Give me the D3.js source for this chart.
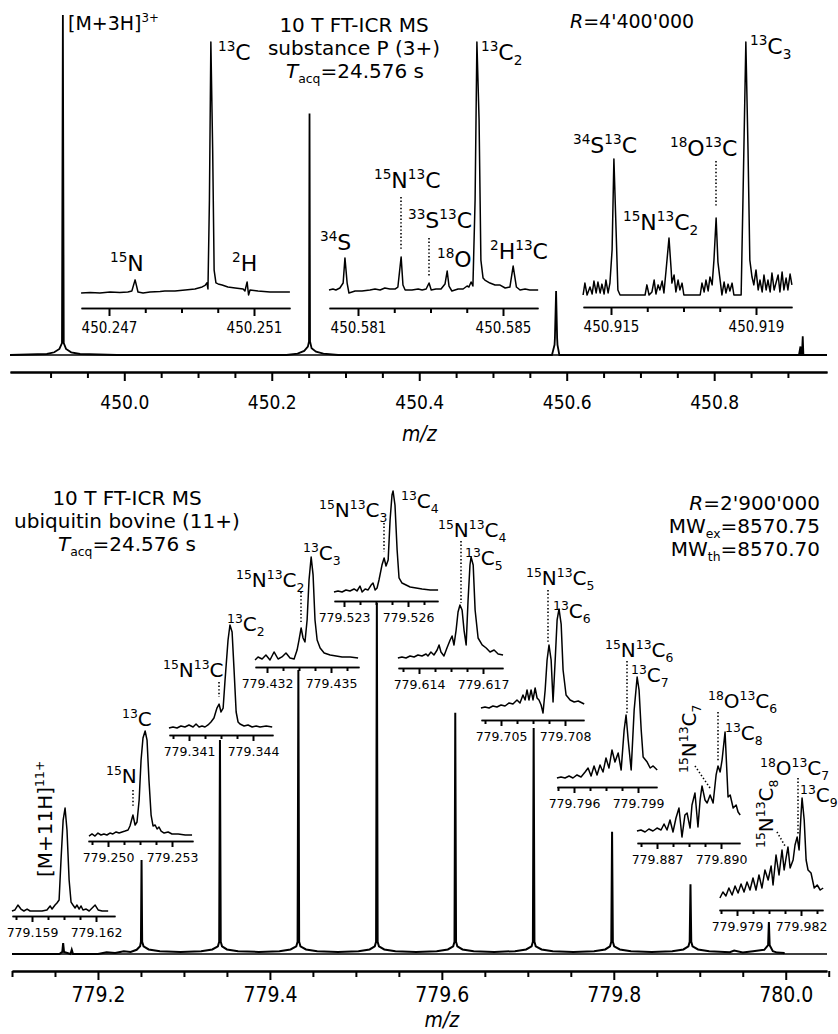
<!DOCTYPE html>
<html><head><meta charset="utf-8">
<script src="https://cdn.jsdelivr.net/npm/d3@7"></script>
<style>
body{margin:0;background:#fff}
svg text{font-family:"DejaVu Sans",sans-serif;fill:#000}
</style></head><body>
<svg id="c" width="838" height="1034"></svg>
<script>
// ================= DATA =================
// ---- Top panel: substance P (3+) ----
const spProfile = [ // [m/z, relative intensity %]
 [449.845,0],[449.895,0.3],[449.905,0.8],[449.912,1.8],[449.9155,3.5],[449.9167,100],[449.9179,3.5],[449.921,1.8],[449.928,0.8],[449.94,0.3],[449.99,0],
 [450.22,0],[450.235,0.4],[450.244,1.2],[450.249,2.5],[450.2505,4],[450.2512,71],[450.2519,4],[450.254,2],[450.26,1],[450.27,0.4],[450.29,0],
 [450.58,0],[450.5835,3],[450.584,5],[450.5856,18.8],[450.587,5],[450.5875,3],[450.59,0],
 [450.915,0],[450.917,2.5],[450.9175,0],[450.919,0],[450.9201,5.5],[450.921,0],[450.953,0]
];
const topMajorTicks = [450.0, 450.2, 450.4, 450.6, 450.8];
const topMinorTicks = [449.9,449.95,450.05,450.1,450.15,450.25,450.3,450.35,450.45,450.5,450.55,450.65,450.7,450.75,450.85,450.9];
// inset traces: [offset from first labelled tick in mDa, relative intensity %]
const spInset1 = [[-0.77,0.4],[-0.52,0.6],[-0.25,0.4],[0.03,0.8],[0.30,0.6],[0.52,0.8],[0.63,1.2],[0.72,5.6],[0.80,0.8],[0.94,0.4],[1.13,0.8],[1.41,1.0],[1.54,1.2],[1.82,1.2],[2.10,1.6],[2.37,2.0],[2.57,2.8],[2.65,3.4],[2.70,4.4],[2.73,2.0],[2.77,37],[2.81,100],[2.86,57],[2.90,9.5],[2.95,4.4],[3.01,4.0],[3.12,3.6],[3.28,2.8],[3.48,2.4],[3.70,2.0],[3.75,1.2],[3.81,4.8],[3.85,-0.4],[3.89,1.6],[4.11,1.2],[4.44,0.8],[4.72,0.8],[4.99,0.8]];
const spInset2 = [[-0.80,0.4],[-0.69,0.8],[-0.61,0.4],[-0.50,1.2],[-0.41,3.2],[-0.36,13.3],[-0.30,3.2],[-0.25,-0.8],[-0.08,0],[0.11,0],[0.33,0.4],[0.47,0.8],[0.61,0.4],[0.74,1.2],[0.88,0.8],[1.02,0.8],[1.10,1.6],[1.19,13.7],[1.24,2.4],[1.30,0.4],[1.49,0.4],[1.66,0.8],[1.77,0.4],[1.88,0.8],[1.96,3.2],[2.02,0.4],[2.15,0.8],[2.29,0.8],[2.40,2.8],[2.46,8.0],[2.51,2.0],[2.59,0],[2.76,0.8],[2.90,0.8],[3.01,2.0],[3.06,1.6],[3.12,3.6],[3.17,2.0],[3.23,36.5],[3.28,100],[3.34,68.7],[3.39,12.4],[3.45,5.2],[3.50,4.4],[3.64,3.2],[3.78,2.4],[3.92,2.4],[4.06,1.2],[4.19,1.6],[4.28,10.0],[4.37,1.6],[4.47,0.4],[4.61,0.8],[4.74,0.4],[4.97,0.4]];
const spInset3 = [[-0.77,0],[-0.72,4.7],[-0.66,0],[-0.58,3.2],[-0.52,0.4],[-0.47,5.5],[-0.41,0.8],[-0.36,5.1],[-0.30,0.8],[-0.25,4.3],[-0.19,0.4],[-0.14,5.9],[-0.08,0.8],[-0.03,4.7],[0.03,17.8],[0.08,53.8],[0.14,25.7],[0.19,2.0],[0.25,0],[0.94,0],[0.99,4.0],[1.05,0],[1.13,1.2],[1.19,5.9],[1.24,0.4],[1.30,4.0],[1.35,2.0],[1.41,5.5],[1.46,0.8],[1.52,9.9],[1.60,22.5],[1.66,9.9],[1.68,4.7],[1.74,7.9],[1.79,1.2],[1.85,5.9],[1.90,2.0],[1.96,4.7],[2.01,0],[2.46,0],[2.51,4.7],[2.57,1.2],[2.62,5.9],[2.68,1.6],[2.73,7.1],[2.79,4.0],[2.84,13.8],[2.90,30.4],[2.95,13.0],[3.01,5.9],[3.06,0],[3.12,5.1],[3.17,0.8],[3.23,4.3],[3.28,1.6],[3.34,4.7],[3.39,0],[3.59,0],[3.64,37.5],[3.72,100],[3.78,57.3],[3.83,13.8],[3.89,7.1],[3.94,4.0],[4.00,9.9],[4.06,2.0],[4.11,5.9],[4.17,1.2],[4.22,7.9],[4.28,2.0],[4.33,5.9],[4.39,1.2],[4.44,8.7],[4.50,2.0],[4.55,4.7],[4.61,7.9],[4.66,1.2],[4.72,9.1],[4.77,2.0],[4.83,6.7],[4.88,2.0],[4.94,8.3],[4.99,4.0]];
const topInsetTicks = [[450.247,450.251],[450.581,450.585],[450.915,450.919]];

// ---- Bottom panel: ubiquitin (11+) ----
const ubqProfile = [
 [779.100,0],[779.155,0],[779.1585,0.6],[779.1595,3.1],[779.1605,0.6],[779.168,0],[779.1695,1.2],[779.171,0],
 [779.200,0],[779.210,0.5],[779.220,0.3],[779.230,0.8],[779.238,0.6],[779.245,1.2],[779.2490,2.2],[779.2500,3.5],[779.2507,26.8],[779.2514,3.5],[779.2530,2.2],[779.259,1.3],[779.272,0.8],[779.296,0.6],[779.320,0.8],[779.333,1.3],
 [779.3395,2.2],[779.3410,3.5],[779.3419,61.0],[779.3428,3.5],[779.3443,2.2],[779.350,1.3],[779.363,0.8],[779.387,0.6],[779.411,0.8],[779.424,1.3],
 [779.4307,2.2],[779.4322,3.5],[779.4331,80.9],[779.4340,3.5],[779.4355,2.2],[779.442,1.3],[779.455,0.8],[779.479,0.6],[779.503,0.8],[779.516,1.3],
 [779.5220,2.2],[779.5235,3.5],[779.5244,100],[779.5253,3.5],[779.5268,2.2],[779.533,1.3],[779.546,0.8],[779.570,0.6],[779.594,0.8],[779.607,1.3],
 [779.6132,2.2],[779.6147,3.5],[779.6156,68.7],[779.6165,3.5],[779.6180,2.2],[779.624,1.3],[779.637,0.8],[779.661,0.6],[779.685,0.8],[779.698,1.3],
 [779.7044,2.2],[779.7059,3.5],[779.7068,64.4],[779.7077,3.5],[779.7092,2.2],[779.716,1.3],[779.729,0.8],[779.753,0.6],[779.777,0.8],[779.790,1.3],
 [779.7956,2.2],[779.7971,3.5],[779.7980,34.8],[779.7989,3.5],[779.8004,2.2],[779.807,1.3],[779.820,0.8],[779.844,0.6],[779.868,0.8],[779.881,1.3],
 [779.8868,2.2],[779.8883,3.5],[779.8892,19.9],[779.8901,3.5],[779.8916,2.2],[779.898,1.3],[779.911,0.8],[779.935,0.5],[779.940,1.0],[779.950,0.4],[779.962,0.8],[779.975,1.2],
 [779.9795,2.5],[779.9804,9.1],[779.9813,2.5],[779.985,0.8],[779.990,0.4],[779.9977,0.3],[779.998,0]
];
const botMajorTicks = [779.2, 779.4, 779.6, 779.8, 780.0];
const botMinorTicks = [779.1,779.15,779.25,779.3,779.35,779.45,779.5,779.55,779.65,779.7,779.75,779.85,779.9,779.95,780.05];
const ubqInsetFirstTick = [779.159,779.250,779.341,779.432,779.523,779.614,779.705,779.796,779.887,779.979];
const ubqA = [[-0.94,0],[-0.80,1.0],[-0.66,5.8],[-0.52,1.9],[-0.38,0],[-0.23,1.9],[-0.09,0],[0.19,0],[0.47,0],[0.70,1.0],[0.85,4.9],[0.94,1.9],[1.08,5.8],[1.17,7.8],[1.27,10.7],[1.36,49.5],[1.46,88.3],[1.55,100],[1.64,78.6],[1.74,30.1],[1.83,8.7],[1.92,5.8],[2.02,2.9],[2.11,5.8],[2.21,1.9],[2.30,4.9],[2.39,1.0],[2.54,1.9],[2.68,0],[2.82,2.9],[2.96,5.8],[3.10,1.0],[3.29,0],[3.57,0]];
const ubqB = [[-0.89,-1.0],[-0.75,1.0],[-0.61,-1.0],[-0.47,1.9],[-0.33,0],[-0.19,1.0],[-0.05,0],[0.09,1.9],[0.23,1.0],[0.38,2.9],[0.52,1.9],[0.66,2.9],[0.80,3.8],[0.94,4.8],[1.03,8.7],[1.13,16.3],[1.17,19.2],[1.27,9.6],[1.36,12.5],[1.46,33.7],[1.55,72.1],[1.64,93.3],[1.74,100],[1.83,91.3],[1.92,52.9],[2.02,19.2],[2.11,8.7],[2.21,9.6],[2.30,5.8],[2.39,7.7],[2.49,3.8],[2.63,1.9],[2.82,2.9],[3.00,1.0],[3.29,1.0],[3.62,0],[3.94,0]];
const ubqC = [[-0.94,-1.0],[-0.75,0],[-0.56,-1.0],[-0.38,1.0],[-0.19,0],[0,2.0],[0.19,0],[0.33,2.9],[0.47,0],[0.61,1.0],[0.75,0],[0.89,2.0],[1.03,4.9],[1.17,8.8],[1.31,18.6],[1.41,22.5],[1.50,14.7],[1.60,18.6],[1.69,46.1],[1.83,85.3],[1.92,100],[2.02,93.1],[2.11,56.9],[2.21,14.7],[2.30,4.9],[2.39,2.9],[2.58,1.0],[2.77,2.0],[2.96,0],[3.15,1.0],[3.33,0],[3.62,1.0],[3.90,0]];
const ubqD = [[-0.56,-1.0],[-0.42,2.0],[-0.23,0],[-0.05,3.9],[0.14,-1.0],[0.33,6.9],[0.52,0],[0.70,2.0],[0.89,5.9],[1.08,1.0],[1.27,0],[1.41,8.8],[1.50,18.6],[1.60,30.4],[1.69,20.6],[1.78,16.7],[1.88,38.2],[1.97,77.5],[2.07,100],[2.16,82.4],[2.25,38.2],[2.35,18.6],[2.49,10.8],[2.68,5.9],[2.96,3.9],[3.24,2.9],[3.52,2.0],[3.90,2.0],[4.27,1.0]];
const ubqE = [[-0.47,0],[-0.28,1.0],[-0.09,0],[0.09,2.0],[0.28,1.0],[0.47,3.0],[0.61,1.0],[0.75,5.9],[0.85,0],[0.99,3.0],[1.13,2.0],[1.27,6.9],[1.36,8.9],[1.46,2.0],[1.55,4.0],[1.64,11.9],[1.78,26.7],[1.88,33.7],[1.97,25.7],[2.07,31.7],[2.16,71.3],[2.25,96.0],[2.30,100],[2.39,86.1],[2.49,41.6],[2.58,13.9],[2.72,8.9],[2.91,6.9],[3.10,5.0],[3.38,4.0],[3.66,3.0],[4.04,2.0],[4.41,2.0]];
const ubqF = [[-0.99,0],[-0.80,1.0],[-0.61,0],[-0.42,2.0],[-0.23,1.0],[-0.05,3.0],[0.14,2.0],[0.33,4.0],[0.42,2.0],[0.56,5.9],[0.70,3.0],[0.85,7.9],[0.94,12.9],[1.03,5.9],[1.17,2.0],[1.31,9.9],[1.46,17.8],[1.55,21.8],[1.64,12.9],[1.74,27.7],[1.83,45.5],[1.92,52.5],[2.02,47.5],[2.11,27.7],[2.21,12.9],[2.30,57.4],[2.39,92.1],[2.44,100],[2.54,92.1],[2.63,47.5],[2.77,19.8],[2.96,12.9],[3.15,9.9],[3.33,5.9],[3.52,7.9],[3.71,4.0],[3.94,3.0]];
const ubqG = [[-0.94,0],[-0.75,1.0],[-0.56,0],[-0.38,2.0],[-0.19,1.0],[0,3.0],[0.19,2.0],[0.38,5.1],[0.56,4.0],[0.75,8.1],[0.89,5.1],[1.03,13.1],[1.13,8.1],[1.22,18.2],[1.31,8.1],[1.41,18.2],[1.50,8.1],[1.60,20.2],[1.69,10.1],[1.78,8.1],[1.88,3.0],[1.97,-5.1],[2.07,18.2],[2.16,48.5],[2.25,63.6],[2.35,48.5],[2.44,6.1],[2.54,48.5],[2.63,88.9],[2.72,100],[2.82,84.8],[2.91,38.4],[3.05,13.1],[3.24,8.1],[3.43,6.1],[3.62,7.1],[3.90,4.0]];
const ubqH = [[-0.80,0],[-0.61,1.0],[-0.42,0],[-0.23,2.0],[-0.05,0],[0.14,3.0],[0.33,1.0],[0.52,5.9],[0.66,9.9],[0.80,2.0],[0.94,11.9],[1.08,3.0],[1.22,12.9],[1.36,5.9],[1.50,19.8],[1.64,9.9],[1.78,27.7],[1.92,15.8],[2.07,24.8],[2.21,7.9],[2.35,47.5],[2.44,62.4],[2.54,37.6],[2.68,7.9],[2.82,67.3],[2.96,100],[3.05,87.1],[3.15,47.5],[3.24,20.8],[3.43,15.8],[3.57,9.9],[3.71,11.9],[3.90,7.9]];
const ubqI = [[-0.94,0],[-0.75,1.0],[-0.56,-1.0],[-0.38,2.0],[-0.19,0],[0,3.0],[0.19,1.0],[0.33,7.1],[0.47,1.0],[0.61,11.1],[0.75,-1.0],[0.89,13.1],[1.03,23.2],[1.17,-6.1],[1.31,16.2],[1.41,18.2],[1.55,3.0],[1.64,26.3],[1.78,38.4],[1.92,4.0],[2.02,31.3],[2.11,45.5],[2.25,31.3],[2.35,28.3],[2.49,36.4],[2.63,28.3],[2.77,56.6],[2.86,65.7],[2.96,59.6],[3.05,71.7],[3.19,100],[3.33,34.3],[3.43,36.4],[3.57,23.2],[3.71,26.3],[3.80,19.2],[3.90,16.2]];
const ubqJ = [[-0.80,0],[-0.66,6],[-0.52,2],[-0.38,10],[-0.23,3],[-0.09,12],[0.05,5],[0.19,14],[0.33,6],[0.47,16],[0.61,8],[0.75,20],[0.89,8],[1.03,23],[1.17,10],[1.31,28],[1.46,18],[1.60,32],[1.69,13],[1.83,43],[1.97,23],[2.11,48],[2.21,28],[2.30,40],[2.39,51],[2.49,30],[2.63,38],[2.72,53],[2.82,61],[2.91,48],[3.00,83],[3.05,100],[3.15,78],[3.24,38],[3.33,28],[3.47,25],[3.62,10],[3.76,13],[3.90,8],[4.04,10]];
const ubqInsetTraces = [ubqA,ubqB,ubqC,ubqD,ubqE,ubqF,ubqG,ubqH,ubqI,ubqJ];

// ================= DRAWING =================
const svg = d3.select('#c');
svg.append('rect').attr('width',838).attr('height',1034).attr('fill','#fff');
const FN = '"Liberation Sans Narrow","DejaVu Sans Condensed",sans-serif';
const FC = '"DejaVu Sans Condensed","DejaVu Sans",sans-serif';
const line = d3.line();

function rich(g, str, x, y, size, opt = {}) {
  const t = g.append('text').attr('x', x).attr('y', y).style('font-size', size + 'px')
    .attr('text-anchor', opt.anchor || 'start');
  if (opt.family) t.style('font-family', opt.family);
  if (opt.rotate) t.attr('transform', `rotate(-90 ${x} ${y})`);
  const re = /\^\{([^}]*)\}|_\{([^}]*)\}|\*([^*]*)\*|([^^_*]+)/g;
  let m, cur = 0;
  const small = opt.small || 0.62;
  while ((m = re.exec(str))) {
    let txt, off = 0, sm = false, it = false;
    if (m[1] !== undefined) { txt = m[1]; off = -0.40 * size; sm = true; }
    else if (m[2] !== undefined) { txt = m[2]; off = 0.24 * size; sm = true; }
    else if (m[3] !== undefined) { txt = m[3]; it = true; }
    else txt = m[4];
    const ts = t.append('tspan').text(txt);
    if (off - cur !== 0) ts.attr('dy', off - cur);
    if (sm) ts.style('font-size', (size * small) + 'px');
    if (it) ts.style('font-style', 'italic');
    cur = off;
  }
  return t;
}
function dotted(g, x1, y1, x2, y2) {
  g.append('line').attr('x1',x1).attr('y1',y1).attr('x2',x2).attr('y2',y2)
   .attr('stroke','#000').attr('stroke-width',1.6).attr('stroke-dasharray','1.4 2.2');
}
function styleAxis(ax, lw, tw) {
  ax.select('.domain').attr('stroke','#000').attr('stroke-width', lw);
  ax.selectAll('.tick line').attr('stroke','#000').attr('stroke-width', tw);
}

// ---------- TOP PANEL ----------
const gT = svg.append('g');
const xTop = d3.scaleLinear().domain([449.845, 450.953]).range([10, 827]);
const yTop = d3.scaleLinear().domain([0, 100]).range([355, 15]);
gT.append('line').attr('x1',10).attr('x2',827).attr('y1',yTop(0)).attr('y2',yTop(0)).attr('stroke','#000').attr('stroke-width',1.5);
gT.append('path').attr('d', line(spProfile.map(d => [xTop(d[0]), yTop(d[1])])))
  .attr('fill','none').attr('stroke','#000').attr('stroke-width',1.8);
const axTmin = gT.append('g').attr('transform','translate(0,372)')
  .call(d3.axisBottom(xTop).tickValues(topMinorTicks).tickSize(6).tickSizeOuter(0).tickFormat(''));
styleAxis(axTmin, 2, 2);
const axTmaj = gT.append('g').attr('transform','translate(0,372)')
  .call(d3.axisBottom(xTop).tickValues(topMajorTicks).tickSize(9).tickSizeOuter(0).tickPadding(15).tickFormat(d3.format('.1f')));
styleAxis(axTmaj, 2, 2);
axTmaj.selectAll('text').style('font-family', FN).style('font-size','19px').attr('fill','#000');
gT.append('text').attr('x', xTop(450.4)).attr('y', 441).attr('text-anchor','middle')
  .style('font-family', FN).style('font-size','21px').style('font-style','italic').text('m/z');

// top insets
const topInsetTraces = [spInset1, spInset2, spInset3];
const topInsetLayout = [
  {xL1:109, x0:81, x1:290, axisY:308, baseY:294, topY:42},
  {xL1:358, x0:329, x1:538, axisY:308, baseY:291, topY:42},
  {xL1:611, x0:583, x1:792, axisY:307, baseY:295, topY:42}
];
const ppmT = 36.25;
topInsetLayout.forEach((L, i) => {
  const [l1, l2] = topInsetTicks[i];
  const xs = d3.scaleLinear().domain([l1 + (L.x0 - L.xL1) / ppmT / 1000, l1 + (L.x1 - L.xL1) / ppmT / 1000]).range([L.x0, L.x1]);
  const ys = d3.scaleLinear().domain([0, 100]).range([L.baseY, L.topY]);
  const g = gT.append('g');
  g.append('path').attr('d', line(topInsetTraces[i].map(d => [xs(l1 + d[0] / 1000), ys(d[1])])))
    .attr('fill','none').attr('stroke','#000').attr('stroke-width',1.5).attr('stroke-linejoin','round');
  const minors = [1,2,3].map(k => l1 + k * 0.001);
  const a1 = g.append('g').attr('transform',`translate(0,${L.axisY})`)
    .call(d3.axisBottom(xs).tickValues(minors).tickSize(5).tickSizeOuter(0).tickFormat(''));
  styleAxis(a1, 1.6, 2);
  const a2 = g.append('g').attr('transform',`translate(0,${L.axisY})`)
    .call(d3.axisBottom(xs).tickValues([l1, l2]).tickSize(8).tickSizeOuter(0).tickPadding(6).tickFormat(d3.format('.3f')));
  styleAxis(a2, 1.6, 2);
  a2.selectAll('text').style('font-family', FC).style('font-size','15px').attr('fill','#000');
});

// top annotations
rich(gT, '[M+3H]^{3+}', 68, 30, 19);
rich(gT, '^{13}C', 218, 60, 22);
rich(gT, '^{15}N', 110, 271, 22);
rich(gT, '^{2}H', 232, 271, 22);
rich(gT, '10 T FT-ICR MS', 354, 32, 20, {anchor:'middle'});
rich(gT, 'substance P (3+)', 354, 55, 20, {anchor:'middle'});
rich(gT, '*T*_{acq}=24.576 s', 355, 78, 20, {anchor:'middle'});
rich(gT, '^{13}C_{2}', 481, 60, 22);
rich(gT, '^{34}S', 320, 250, 22);
rich(gT, '^{15}N^{13}C', 374, 188, 22);
dotted(gT, 401, 197, 401, 250);
rich(gT, '^{33}S^{13}C', 408, 228, 22);
dotted(gT, 429, 238, 429, 277);
rich(gT, '^{18}O', 437, 267, 22);
rich(gT, '^{2}H^{13}C', 490, 259, 22);
rich(gT, '*R*=4\'400\'000', 570, 28, 19);
rich(gT, '^{34}S^{13}C', 573, 153, 22);
rich(gT, '^{15}N^{13}C_{2}', 623, 230, 22);
rich(gT, '^{18}O^{13}C', 670, 156, 22);
dotted(gT, 716, 161, 716, 206);
rich(gT, '^{13}C_{3}', 750, 54, 22);

// ---------- BOTTOM PANEL ----------
const gB = svg.append('g');
const xBot = d3.scaleLinear().domain([779.1, 780.048]).range([12, 827]);
const yBot = d3.scaleLinear().domain([0, 100]).range([954, 603]);
gB.append('line').attr('x1',12).attr('x2',827).attr('y1',yBot(0)).attr('y2',yBot(0)).attr('stroke','#000').attr('stroke-width',1.3);
gB.append('path').attr('d', line(ubqProfile.map(d => [xBot(d[0]), yBot(d[1])])))
  .attr('fill','none').attr('stroke','#000').attr('stroke-width',2);
const axBmin = gB.append('g').attr('transform','translate(0,971)')
  .call(d3.axisBottom(xBot).tickValues(botMinorTicks).tickSize(6).tickSizeOuter(0).tickFormat(''));
styleAxis(axBmin, 2, 2);
const axBmaj = gB.append('g').attr('transform','translate(0,971)')
  .call(d3.axisBottom(xBot).tickValues(botMajorTicks).tickSize(9).tickSizeOuter(0).tickPadding(7).tickFormat(d3.format('.1f')));
styleAxis(axBmaj, 2, 2);
axBmaj.selectAll('text').style('font-family', FN).style('font-size','21px').attr('fill','#000');
gB.append('text').attr('x', xBot(779.6)).attr('y', 1027).attr('text-anchor','middle')
  .style('font-family', FN).style('font-size','21px').style('font-style','italic').text('m/z');

const tickA = [-0.75,0,0.75,1.5,2.25,3];
const tickD = [0,0.75,1.5,2.25,3,3.75];
const tickJ = [-0.75,0,0.75,1.5,2.25,3,3.75];
const botInsetLayout = [
  {xL1:32,  x0:12,  x1:115, axisY:916, baseY:911, topY:808, ticks:tickA},
  {xL1:108, x0:88,  x1:193, axisY:841, baseY:835, topY:731, ticks:tickA},
  {xL1:189, x0:169, x1:273, axisY:735, baseY:727, topY:625, ticks:tickA},
  {xL1:267, x0:255, x1:359, axisY:667, baseY:659, topY:557, ticks:tickD},
  {xL1:344, x0:334, x1:438, axisY:601, baseY:592, topY:491, ticks:tickD},
  {xL1:419, x0:398, x1:503, axisY:668, baseY:658, topY:557, ticks:tickA},
  {xL1:501, x0:481, x1:584, axisY:720, baseY:708, topY:609, ticks:tickA},
  {xL1:574, x0:557, x1:657, axisY:787, baseY:778, topY:677, ticks:tickA},
  {xL1:657, x0:637, x1:740, axisY:843, baseY:831, topY:732, ticks:tickA},
  {xL1:737, x0:719, x1:823, axisY:910, baseY:898, topY:798, ticks:tickJ}
];
const ppmB = 64 / 3;
botInsetLayout.forEach((L, i) => {
  const l1 = ubqInsetFirstTick[i], l2 = +(l1 + 0.003).toFixed(3);
  const xs = d3.scaleLinear().domain([l1 + (L.x0 - L.xL1) / ppmB / 1000, l1 + (L.x1 - L.xL1) / ppmB / 1000]).range([L.x0, L.x1]);
  const ys = d3.scaleLinear().domain([0, 100]).range([L.baseY, L.topY]);
  const g = gB.append('g');
  g.append('path').attr('d', line(ubqInsetTraces[i].map(d => [xs(l1 + d[0] / 1000), ys(d[1])])))
    .attr('fill','none').attr('stroke','#000').attr('stroke-width',1.5).attr('stroke-linejoin','round');
  const minors = L.ticks.filter(t => t !== 0 && t !== 3).map(t => l1 + t / 1000);
  const a1 = g.append('g').attr('transform',`translate(0,${L.axisY})`)
    .call(d3.axisBottom(xs).tickValues(minors).tickSize(4).tickSizeOuter(0).tickFormat(''));
  styleAxis(a1, 1.5, 2);
  const a2 = g.append('g').attr('transform',`translate(0,${L.axisY})`)
    .call(d3.axisBottom(xs).tickValues([l1, l2]).tickSize(6).tickSizeOuter(0).tickPadding(6).tickFormat(d3.format('.3f')));
  styleAxis(a2, 1.5, 2);
  a2.selectAll('text').style('font-family','"DejaVu Sans",sans-serif').style('font-size','12.5px').attr('fill','#000');
});

// bottom annotations
const S = 20;
rich(gB, '[M+11H]^{11+}', 52, 877, 20, {rotate:true});
rich(gB, '^{15}N', 106, 783, S); dotted(gB, 133, 790, 133, 808);
rich(gB, '^{13}C', 122, 726, S);
rich(gB, '^{15}N^{13}C', 163, 677, S); dotted(gB, 219, 682, 219, 697);
rich(gB, '^{13}C_{2}', 227, 631, S);
rich(gB, '^{15}N^{13}C_{2}', 236, 587, S); dotted(gB, 301, 592, 301, 622);
rich(gB, '^{13}C_{3}', 303, 560, S);
rich(gB, '^{15}N^{13}C_{3}', 319, 517, S); dotted(gB, 384, 523, 384, 552);
rich(gB, '^{13}C_{4}', 401, 508, S);
rich(gB, '^{15}N^{13}C_{4}', 438, 537, S); dotted(gB, 461, 541, 461, 603);
rich(gB, '^{13}C_{5}', 465, 565, S);
rich(gB, '^{15}N^{13}C_{5}', 526, 585, S); dotted(gB, 548, 590, 548, 642);
rich(gB, '^{13}C_{6}', 553, 618, S);
rich(gB, '^{15}N^{13}C_{6}', 605, 657, S); dotted(gB, 627, 661, 627, 713);
rich(gB, '^{13}C_{7}', 631, 682, S);
rich(gB, '^{15}N^{13}C_{7}', 696, 773, S, {rotate:true}); dotted(gB, 695, 766, 710, 788);
rich(gB, '^{18}O^{13}C_{6}', 708, 708, S); dotted(gB, 718, 712, 718, 762);
rich(gB, '^{13}C_{8}', 725, 740, S);
rich(gB, '^{15}N^{13}C_{8}', 773, 848, S, {rotate:true}); dotted(gB, 777, 832, 785, 846);
rich(gB, '^{18}O^{13}C_{7}', 760, 775, S); dotted(gB, 798, 778, 798, 835);
rich(gB, '^{13}C_{9}', 800, 802, S);

rich(gB, '10 T FT-ICR MS', 127, 505, 20, {anchor:'middle'});
rich(gB, 'ubiquitin bovine (11+)', 127, 528, 20, {anchor:'middle'});
rich(gB, '*T*_{acq}=24.576 s', 127, 551, 20, {anchor:'middle'});
rich(gB, '*R*=2\'900\'000', 820, 510, 20, {anchor:'end'});
rich(gB, 'MW_{ex}=8570.75', 820, 533, 20, {anchor:'end'});
rich(gB, 'MW_{th}=8570.70', 820, 556, 20, {anchor:'end'});
</script>
</body></html>
